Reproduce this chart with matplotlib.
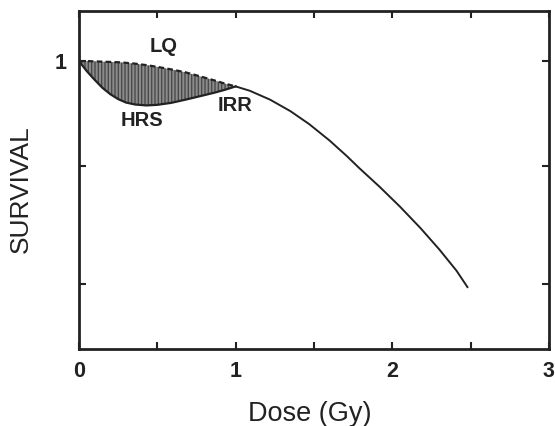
import numpy as np
import matplotlib.pyplot as plt

plt.rcParams['font.family'] = ['Liberation Sans', 'DejaVu Sans']

# dose values (Gy)
dose_low = [0.0, 0.05, 0.10, 0.15, 0.20, 0.25, 0.30, 0.36, 0.43, 0.50, 0.59, 0.68, 0.78, 0.87, 0.93, 1.0]
# solid curve (HRS / IRR) in the low dose region
hrs_low = [1.0, 0.965, 0.935, 0.907, 0.885, 0.868, 0.856, 0.849, 0.846, 0.848, 0.855, 0.866, 0.879, 0.891, 0.900, 0.912]
# dashed LQ curve in the low dose region
lq_low = [1.0, 1.0, 0.999, 0.998, 0.997, 0.996, 0.994, 0.991, 0.986, 0.980, 0.971, 0.961, 0.946, 0.932, 0.922, 0.912]

# solid curve above 1 Gy
dose_high = [1.0, 1.09, 1.22, 1.35, 1.47, 1.60, 1.71, 1.79, 1.92, 2.05, 2.18, 2.30, 2.41, 2.48]
surv_high = [0.912, 0.897, 0.866, 0.826, 0.781, 0.724, 0.670, 0.628, 0.563, 0.494, 0.420, 0.346, 0.272, 0.215]

ytick_pos = [0.226, 0.635, 1.0]
ytick_lab = ['', '', '1']

fig = plt.figure(figsize=(5.55, 4.26), dpi=100)
ax = fig.add_axes([0.1423, 0.1808, 0.8467, 0.7934])

ax.fill_between(dose_low, hrs_low, lq_low, facecolor='#8c8c8c', edgecolor='#4a4a4a',
                hatch='|||||', linewidth=0)
ax.plot(dose_low, lq_low, color='#222222', lw=1.6, ls=(0, (2.5, 1.5)))
ax.plot(dose_low, hrs_low, color='#222222', lw=1.6)
ax.plot(dose_high, surv_high, color='#222222', lw=1.4)

ax.text(0.54, 1.049, 'LQ', ha='center', va='center', fontsize=14.5, fontweight='bold', color='#222222')
ax.text(0.40, 0.795, 'HRS', ha='center', va='center', fontsize=14.5, fontweight='bold', color='#222222')
ax.text(0.995, 0.847, 'IRR', ha='center', va='center', fontsize=14.5, fontweight='bold', color='#222222')

ax.set_xlim(0, 3)
ax.set_ylim(0, 1.174)
ax.set_xticks([0, 1, 2, 3])
ax.set_xticks([0.5, 1.5, 2.5], minor=True)
ax.set_yticks(ytick_pos)
ax.set_yticklabels(ytick_lab)
ax.tick_params(which='both', direction='in', top=True, right=True, length=5, width=1.5,
               labelsize=15.5, colors='#222222')
ax.tick_params(axis='x', pad=9)
ax.tick_params(axis='y', pad=9)
for lab in ax.get_xticklabels() + ax.get_yticklabels():
    lab.set_fontweight('bold')
for s in ax.spines.values():
    s.set_linewidth(2)
    s.set_color('#222222')

ax.set_xlabel('Dose (Gy)', fontsize=19.5, color='#222222')
ax.set_ylabel('SURVIVAL', fontsize=19, color='#222222')
ax.xaxis.set_label_coords(0.491, -0.155)
ax.yaxis.set_label_coords(-0.098, 0.473)

plt.savefig('out.png', dpi=100)
